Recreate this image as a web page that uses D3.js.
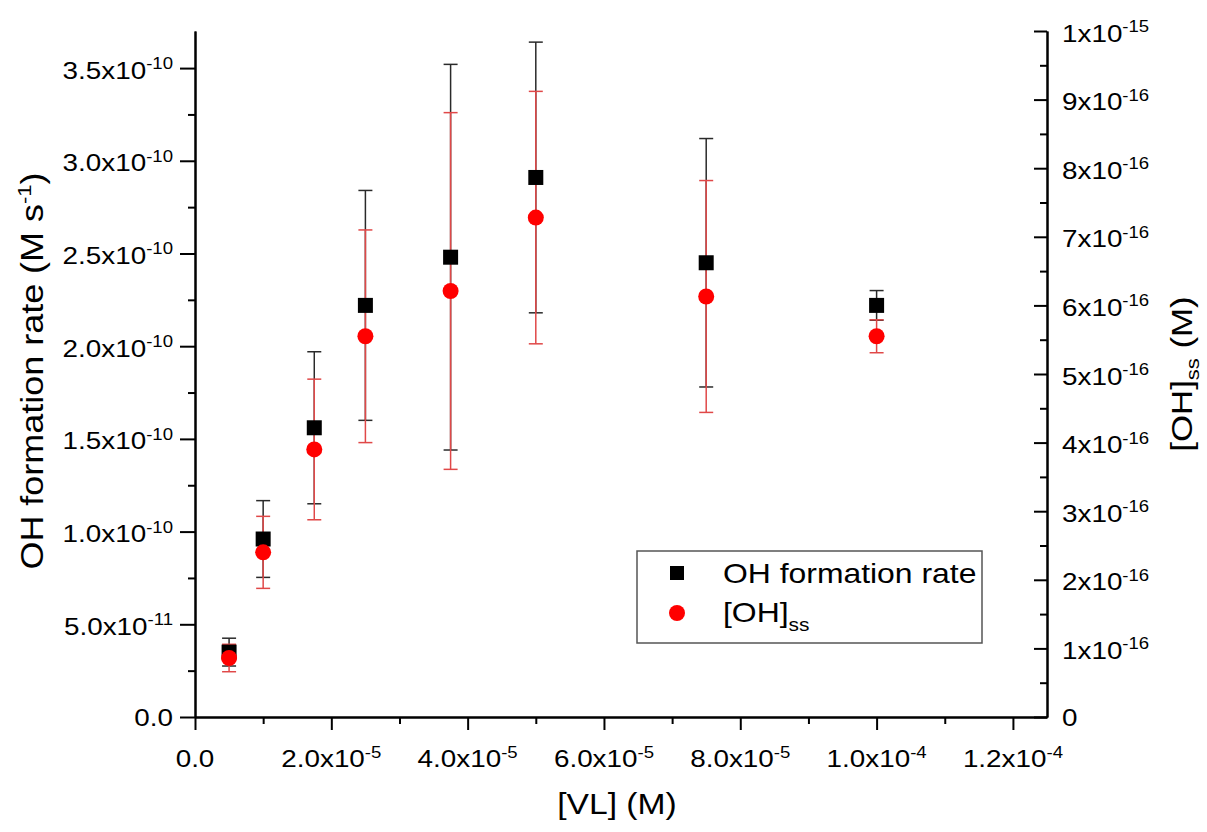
<!DOCTYPE html>
<html>
<head>
<meta charset="utf-8">
<script src="https://cdn.jsdelivr.net/npm/d3@7"></script>
<style>
  html, body { margin: 0; padding: 0; background: #fff; }
  svg { display: block; }
</style>
</head>
<body>
<svg id="chart" width="1207" height="832"></svg>
<script>
// ---------------- DATA ----------------
const vlConc = [5e-6, 1e-5, 1.75e-5, 2.5e-5, 3.75e-5, 5e-5, 7.5e-5, 1e-4];           // [VL] (M)
const ohRate = [3.5e-11, 9.6e-11, 1.56e-10, 2.22e-10, 2.48e-10, 2.91e-10, 2.45e-10, 2.22e-10]; // M s^-1
const ohRateErr = [0.75e-11, 2.07e-11, 4.1e-11, 6.2e-11, 1.04e-10, 7.3e-11, 6.7e-11, 0.8e-11];
const ohSS = [0.86e-16, 2.4e-16, 3.9e-16, 5.55e-16, 6.21e-16, 7.28e-16, 6.13e-16, 5.55e-16]; // M
const ohSSErr = [0.2e-16, 0.525e-16, 1.025e-16, 1.55e-16, 2.6e-16, 1.84e-16, 1.69e-16, 0.24e-16];

const xTickVals = [0, 2e-5, 4e-5, 6e-5, 8e-5, 1e-4, 1.2e-4];
const xTickMant = ["0.0", "2.0", "4.0", "6.0", "8.0", "1.0", "1.2"];
const xTickExp  = [null, "-5", "-5", "-5", "-5", "-4", "-4"];
const xMinorVals = [1e-5, 3e-5, 5e-5, 7e-5, 9e-5, 1.1e-4];

const leftTickVals = [0, 5e-11, 1e-10, 1.5e-10, 2e-10, 2.5e-10, 3e-10, 3.5e-10];
const leftTickMant = ["0.0", "5.0", "1.0", "1.5", "2.0", "2.5", "3.0", "3.5"];
const leftTickExp  = [null, "-11", "-10", "-10", "-10", "-10", "-10", "-10"];
const leftMinorVals = [2.5e-11, 7.5e-11, 1.25e-10, 1.75e-10, 2.25e-10, 2.75e-10, 3.25e-10];

const rightTickVals = [0, 1e-16, 2e-16, 3e-16, 4e-16, 5e-16, 6e-16, 7e-16, 8e-16, 9e-16, 1e-15];
const rightTickMant = ["0", "1", "2", "3", "4", "5", "6", "7", "8", "9", "1"];
const rightTickExp  = [null, "-16", "-16", "-16", "-16", "-16", "-16", "-16", "-16", "-16", "-15"];
const rightMinorVals = [0.5e-16, 1.5e-16, 2.5e-16, 3.5e-16, 4.5e-16, 5.5e-16, 6.5e-16, 7.5e-16, 8.5e-16, 9.5e-16];

const seriesNames = ["OH formation rate", "[OH]"];

// ---------------- LAYOUT ----------------
const L = 195, R = 1047, T = 31, B = 717;
const FONT = "'Liberation Sans', Arial, Helvetica, sans-serif";
const STRETCH = 1.16;

const svg = d3.select("#chart");
const x = d3.scaleLinear().domain([0, 1.25e-4]).range([L, R]);
const yL = d3.scaleLinear().domain([0, 3.7e-10]).range([B, T]);
const yR = d3.scaleLinear().domain([0, 1e-15]).range([B, T]);

function addText(parent, px, py, rot, anchor, size, parts) {
  const t = parent.append("text")
    .attr("transform", `translate(${px},${py}) rotate(${rot}) scale(${STRETCH},1)`)
    .attr("text-anchor", anchor)
    .attr("font-family", FONT)
    .attr("font-size", size)
    .attr("fill", "#000");
  let shift = 0;
  parts.forEach(p => {
    const ts = t.append("tspan").text(p.t);
    let target = 0;
    if (p.sup) target = -p.sup; else if (p.sub) target = p.sub;
    if (target - shift !== 0) ts.attr("dy", target - shift);
    shift = target;
    if (p.size) ts.attr("font-size", p.size);
  });
  return t;
}

function styleAxis(g) {
  g.selectAll("path.domain").attr("stroke", "#000").attr("stroke-width", 2);
  g.selectAll(".tick line").attr("stroke", "#000").attr("stroke-width", 2);
  g.selectAll(".tick text").remove();
}

// ---------------- AXES ----------------
const gLeftMinor = svg.append("g").attr("transform", `translate(${L},0)`)
  .call(d3.axisLeft(yL).tickValues(leftMinorVals).tickSize(7).tickSizeOuter(0).tickFormat(() => ""));
styleAxis(gLeftMinor);
const gLeft = svg.append("g").attr("transform", `translate(${L},0)`)
  .call(d3.axisLeft(yL).tickValues(leftTickVals).tickSize(15).tickSizeOuter(0).tickFormat(() => ""));
styleAxis(gLeft);

const gRightMinor = svg.append("g").attr("transform", `translate(${R},0)`)
  .call(d3.axisLeft(yR).tickValues(rightMinorVals).tickSize(7).tickSizeOuter(0).tickFormat(() => ""));
styleAxis(gRightMinor);
const gRight = svg.append("g").attr("transform", `translate(${R},0)`)
  .call(d3.axisLeft(yR).tickValues(rightTickVals).tickSize(13).tickSizeOuter(0).tickFormat(() => ""));
styleAxis(gRight);

const gBotMinor = svg.append("g").attr("transform", `translate(0,${B})`)
  .call(d3.axisBottom(x).tickValues(xMinorVals).tickSize(7).tickSizeOuter(0).tickFormat(() => ""));
styleAxis(gBotMinor);
const gBot = svg.append("g").attr("transform", `translate(0,${B})`)
  .call(d3.axisBottom(x).tickValues(xTickVals).tickSize(13).tickSizeOuter(0).tickFormat(() => ""));
styleAxis(gBot);

// tick labels
const labels = svg.append("g");
const MAIN = 24, SUP = 16, RAISE = 9.5;
leftTickVals.forEach((v, i) => {
  const parts = leftTickExp[i]
    ? [{t: leftTickMant[i] + "x10"}, {t: leftTickExp[i], sup: RAISE, size: SUP}]
    : [{t: leftTickMant[i]}];
  addText(labels, 173, yL(v) + (leftTickExp[i] ? 10.5 : 8.5), 0, "end", MAIN, parts);
});
rightTickVals.forEach((v, i) => {
  const parts = rightTickExp[i]
    ? [{t: rightTickMant[i] + "x10"}, {t: rightTickExp[i], sup: RAISE, size: SUP}]
    : [{t: rightTickMant[i]}];
  addText(labels, 1062, yR(v) + (rightTickExp[i] ? 10.5 : 8.5), 0, "start", MAIN, parts);
});
xTickVals.forEach((v, i) => {
  const parts = xTickExp[i]
    ? [{t: xTickMant[i] + "x10"}, {t: xTickExp[i], sup: RAISE, size: SUP}]
    : [{t: xTickMant[i]}];
  addText(labels, x(v), 767, 0, "middle", MAIN, parts);
});

// axis titles
addText(svg, (L + R) / 2 - 4, 814, 0, "middle", 29, [{t: "[VL] (M)"}]);
addText(svg, 43, 371, -90, "middle", 31,
  [{t: "OH formation rate (M s"}, {t: "-1", sup: 12, size: 19}, {t: ")"}]);
addText(svg, 1192, 374, -90, "middle", 30,
  [{t: "[OH]"}, {t: "ss", sub: 7, size: 19}, {t: " (M)"}]);

// ---------------- MARKS ----------------
const CAP = 7;
const data = vlConc.map((v, i) => ({x: v, r: ohRate[i], re: ohRateErr[i], s: ohSS[i], se: ohSSErr[i]}));

function errorBars(g, yScale, key, errKey, color) {
  const eb = g.selectAll(null).data(data).enter().append("g")
    .attr("stroke", color).attr("stroke-width", 1.5).attr("fill", "none");
  eb.append("line")
    .attr("x1", d => x(d.x)).attr("x2", d => x(d.x))
    .attr("y1", d => yScale(d[key] - d[errKey])).attr("y2", d => yScale(d[key] + d[errKey]));
  eb.append("line")
    .attr("x1", d => x(d.x) - CAP).attr("x2", d => x(d.x) + CAP)
    .attr("y1", d => yScale(d[key] + d[errKey])).attr("y2", d => yScale(d[key] + d[errKey]));
  eb.append("line")
    .attr("x1", d => x(d.x) - CAP).attr("x2", d => x(d.x) + CAP)
    .attr("y1", d => yScale(d[key] - d[errKey])).attr("y2", d => yScale(d[key] - d[errKey]));
}

const marks = svg.append("g");
errorBars(marks, yL, "r", "re", "#2a2a2a");
errorBars(marks, yR, "s", "se", "#e04848");

const SQ = 15;
marks.selectAll("rect.sq").data(data).enter().append("rect")
  .attr("class", "sq")
  .attr("x", d => x(d.x) - SQ / 2).attr("y", d => yL(d.r) - SQ / 2)
  .attr("width", SQ).attr("height", SQ).attr("fill", "#000");

marks.selectAll("circle.ci").data(data).enter().append("circle")
  .attr("class", "ci")
  .attr("cx", d => x(d.x)).attr("cy", d => yR(d.s))
  .attr("r", 8).attr("fill", "#ff0000");

// ---------------- LEGEND ----------------
const lg = svg.append("g");
lg.append("rect").attr("x", 637).attr("y", 551).attr("width", 345).attr("height", 92)
  .attr("fill", "#fff").attr("stroke", "#555").attr("stroke-width", 1.5);
lg.append("rect").attr("x", 677 - 7).attr("y", 573 - 7).attr("width", 14).attr("height", 14).attr("fill", "#000");
lg.append("circle").attr("cx", 677).attr("cy", 613).attr("r", 8).attr("fill", "#ff0000");
addText(lg, 723, 583, 0, "start", 27.5, [{t: seriesNames[0]}]);
addText(lg, 723, 622, 0, "start", 27.5, [{t: seriesNames[1]}, {t: "ss", sub: 9, size: 18}]);
</script>
</body>
</html>
